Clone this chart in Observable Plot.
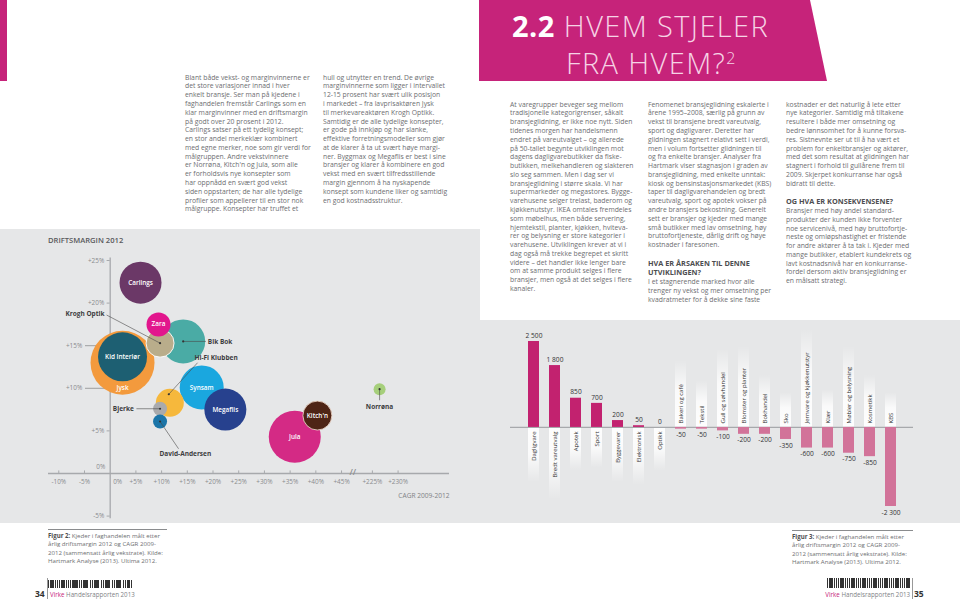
<!DOCTYPE html>
<html><head><meta charset="utf-8">
<script src="https://cdn.jsdelivr.net/npm/d3@7"></script>
<script src="https://cdn.jsdelivr.net/npm/@observablehq/plot@0.6"></script>
<style>
html,body{margin:0;padding:0;background:#fff;}
body{width:960px;height:599px;position:relative;overflow:hidden;font-family:"Open Sans",sans-serif;}
.abs{position:absolute;}
.txt{font-size:6.8px;line-height:8.78px;color:#6d6e71;white-space:nowrap;}
.h{font-weight:700;color:#4d4d4f;font-size:7.3px;}
.grey{background:#e6e7e8;}
.cap{font-size:6.1px;line-height:8.5px;color:#6d6e71;white-space:nowrap;}
.cap b{color:#4d4d4f;}
.capline{height:1px;background:#8a8c8e;}
.bar{background:repeating-linear-gradient(90deg,#333 0 1px,transparent 1px 2px,#333 2px 2.6px,transparent 2.6px 3.4px,#333 3.4px 4.6px,transparent 4.6px 5.5px);}
.foot{font-size:6.2px;color:#808285;white-space:nowrap;line-height:8px;}
.foot .v{color:#c6237a;}
.pn{font-size:8.5px;font-weight:700;color:#333;line-height:8px;}
.sep{width:1px;background:#999;}
.title{font-size:29px;line-height:33px;white-space:nowrap;color:#f6d3e5;font-weight:300;letter-spacing:1.4px;}
</style>
</head><body>
<svg width="0" height="0" style="position:absolute">
  <defs>
    <linearGradient id="gdown" x1="0" y1="0" x2="0" y2="1">
      <stop offset="0" stop-color="#fff" stop-opacity="0.95"/>
      <stop offset="0.5" stop-color="#fff" stop-opacity="0.8"/>
      <stop offset="1" stop-color="#fff" stop-opacity="0"/>
    </linearGradient>
    <linearGradient id="gup" x1="0" y1="1" x2="0" y2="0">
      <stop offset="0" stop-color="#fff" stop-opacity="0.95"/>
      <stop offset="0.55" stop-color="#fff" stop-opacity="0.8"/>
      <stop offset="1" stop-color="#fff" stop-opacity="0"/>
    </linearGradient>
  </defs>
</svg>

<!-- left page -->
<div class="abs" style="left:0;top:0;width:7px;height:81px;background:#c6237a"></div>

<div class="abs txt" style="left:185px;top:73.6px">Blant både vekst- og marginvinnerne er<br>det store variasjoner innad i hver<br>enkelt bransje. Ser man på kjedene i<br>faghandelen fremstår Carlings som en<br>klar marginvinner med en driftsmargin<br>på godt over 20 prosent i 2012.<br>Carlings satser på ett tydelig konsept;<br>en stor andel merkeklær kombinert<br>med egne merker, noe som gir verdi for<br>målgruppen. Andre vekstvinnere<br>er Norrøna, Kitch'n og Jula, som alle<br>er forholdsvis nye konsepter som<br>har oppnådd en svært god vekst<br>siden oppstarten; de har alle tydelige<br>profiler som appellerer til en stor nok<br>målgruppe. Konsepter har truffet et</div>

<div class="abs txt" style="left:323px;top:73.6px">hull og utnytter en trend. De øvrige<br>marginvinnerne som ligger i intervallet<br>12-15 prosent har svært ulik posisjon<br>i markedet – fra lavprisaktøren Jysk<br>til merkevareaktøren Krogh Optikk.<br>Samtidig er de alle tydelige konsepter,<br>er gode på innkjøp og har slanke,<br>effektive forretningsmodeller som gjør<br>at de klarer å ta ut svært høye margi-<br>ner. Byggmax og Megaflis er best i sine<br>bransjer og klarer å kombinere en god<br>vekst med en svært tilfredsstillende<br>margin gjennom å ha nyskapende<br>konsept som kundene liker og samtidig<br>en god kostnadsstruktur.</div>

<div class="abs grey" style="left:0;top:229px;width:480px;height:294px"></div>
<div id="bubble" class="abs" style="left:0;top:229px;width:480px;height:294px"></div>
<div class="abs" style="left:48px;top:235px;font-size:7.6px;font-weight:600;color:#58595b;white-space:nowrap;line-height:10px">DRIFTSMARGIN 2012</div>

<div class="abs capline" style="left:48px;top:529px;width:119px"></div>
<div class="abs cap" style="left:48px;top:531.5px"><b>Figur 2:</b> Kjeder i faghandelen målt etter<br>årlig driftsmargin 2012 og CAGR 2009-<br>2012 (sammensatt årlig vekstrate). Kilde:<br>Hartmark Analyse (2013). Ultima 2012.</div>

<div class="abs bar" style="left:48px;top:580px;width:85px;height:8px"></div>
<div class="abs pn" style="left:35px;top:590px">34</div>
<div class="abs sep" style="left:47px;top:578px;height:21px"></div>
<div class="abs foot" style="left:50px;top:591px"><span class="v">Virke</span> Handelsrapporten 2013</div>

<!-- right page -->
<div class="abs" style="left:479px;top:0;width:350px;height:81px;background:#c6237a;clip-path:polygon(0 0,331px 0,348px 81px,0 81px)"></div>
<div class="abs title" style="left:512px;top:9px"><span style="font-weight:700;color:#fff;letter-spacing:0.5px">2.2</span> HVEM STJELER</div>
<div class="abs title" style="left:566px;top:42px">FRA HVEM?<span style="font-size:16px;vertical-align:10px;letter-spacing:0">2</span></div>

<div class="abs txt" style="left:510px;top:100.6px">At varegrupper beveger seg mellom<br>tradisjonelle kategorigrenser, såkalt<br>bransjeglidning, er ikke noe nytt. Siden<br>tidenes morgen har handelsmenn<br>endret på vareutvalget – og allerede<br>på 50-tallet begynte utviklingen mot<br>dagens dagligvarebutikker da fiske-<br>butikken, melkehandleren og slakteren<br>slo seg sammen. Men i dag ser vi<br>bransjeglidning i større skala. Vi har<br>supermarkeder og megastores. Bygge-<br>varehusene selger trelast, baderom og<br>kjøkkenutstyr. IKEA omtales fremdeles<br>som møbelhus, men både servering,<br>hjemtekstil, planter, kjøkken, hviteva-<br>rer og belysning er store kategorier i<br>varehusene. Utviklingen krever at vi i<br>dag også må trekke begrepet et skritt<br>videre – det handler ikke lenger bare<br>om at samme produkt selges i flere<br>bransjer, men også at det selges i flere<br>kanaler.</div>

<div class="abs txt" style="left:648px;top:100.6px">Fenomenet bransjeglidning eskalerte i<br>årene 1995–2008, særlig på grunn av<br>vekst til bransjene bredt vareutvalg,<br>sport og dagligvarer. Deretter har<br>glidningen stagnert relativt sett i verdi,<br>men i volum fortsetter glidningen til<br>og fra enkelte bransjer. Analyser fra<br>Hartmark viser stagnasjon i graden av<br>bransjeglidning, med enkelte unntak:<br>kiosk og bensinstasjonsmarkedet (KBS)<br>taper til dagligvarehandelen og bredt<br>vareutvalg, sport og apotek vokser på<br>andre bransjers bekostning. Generelt<br>sett er bransjer og kjeder med mange<br>små butikker med lav omsetning, høy<br>bruttofortjeneste, dårlig drift og høye<br>kostnader i faresonen.<br>&nbsp;<br><span class="h">HVA ER ÅRSAKEN TIL DENNE</span><br><span class="h">UTVIKLINGEN?</span><br>I et stagnerende marked hvor alle<br>trenger ny vekst og mer omsetning per<br>kvadratmeter for å dekke sine faste</div>

<div class="abs txt" style="left:786px;top:100.6px">kostnader er det naturlig å lete etter<br>nye kategorier. Samtidig må tiltakene<br>resultere i både mer omsetning og<br>bedre lønnsomhet for å kunne forsva-<br>res. Sistnevnte ser ut til å ha vært et<br>problem for enkeltbransjer og aktører,<br>med det som resultat at glidningen har<br>stagnert i forhold til gullårene frem til<br>2009. Skjerpet konkurranse har også<br>bidratt til dette.<br>&nbsp;<br><span class="h">OG HVA ER KONSEKVENSENE?</span><br>Bransjer med høy andel standard-<br>produkter der kunden ikke forventer<br>noe servicenivå, med høy bruttofortje-<br>neste og omløpshastighet er fristende<br>for andre aktører å ta tak i. Kjeder med<br>mange butikker, etablert kundekrets og<br>lavt kostnadsnivå har en konkurranse-<br>fordel dersom aktiv bransjeglidning er<br>en målsatt strategi.</div>

<div class="abs grey" style="left:480px;top:320px;width:480px;height:203px"></div>
<div id="bars" class="abs" style="left:480px;top:320px;width:480px;height:203px"></div>

<div class="abs capline" style="left:792px;top:530px;width:121px"></div>
<div class="abs cap" style="left:792px;top:532.5px"><b>Figur 3:</b> Kjeder i faghandelen målt etter<br>årlig driftsmargin 2012 og CAGR 2009-<br>2012 (sammensatt årlig vekstrate). Kilde:<br>Hartmark Analyse (2013). Ultima 2012.</div>

<div class="abs bar" style="left:827px;top:578px;width:83px;height:10px"></div>
<div class="abs foot" style="right:50px;top:591px"><span class="v">Virke</span> Handelsrapporten 2013</div>
<div class="abs sep" style="left:912px;top:578px;height:21px"></div>
<div class="abs pn" style="left:914px;top:590px">35</div>

<script>
// ---------- Figure 2: bubble chart data ----------
const chains = ["Jysk","Kid Interiør","Carlings","Bik Bok","Zara","Krogh Optik","Synsam","Megaflis","Hi-Fi Klubben","Bjerke","David-Andersen","Jula","Kitch'n","Norrøna"];
const cagr   = [2.4, 2.4, 5.9, 14.2, 9.4, 9.7, 17.8, 22.4, 11.6, 9.7, 9.7, 35.9, 40.3, 226.4]; // CAGR 2009-2012, %
const margin = [13.0, 13.7, 22.4, 15.5, 17.5, 15.3, 10.1, 7.5, 8.3, 7.6, 6.1, 4.3, 6.8, 9.9];   // driftsmargin 2012, %
const size   = [1024, 600, 441, 484, 144, 196, 484, 441, 196, 49, 49, 676, 210, 36];           // relative size
const bubbleColors = ["#f39a3d","#1d5f72","#6b3867","#4aaba5","#e2168d","#b9ad8b","#1aa7df","#27418e","#f6b83c","#a9aaac","#1b75a8","#d42a85","#4e2415","#a6cf7b"];
const bubbleStroke = ["none","none","none","none","none","#ffffff","none","none","none","none","none","none","#e9d2c4","none"];
const insideLabelY = [10.1, 13.7, 22.4, null, 17.5, null, 10.1, 7.5, null, null, null, 4.3, 6.8, null];

const calloutNames   = ["Krogh Optik","Bik Bok","Hi-Fi Klubben","Bjerke","David-Andersen","Norrøna"];
const calloutTextX   = [-1.1, 19.0, 16.4, 4.6, 9.6, 226.4];
const calloutTextY   = [18.7, 15.5, 13.6, 7.6, 2.3, 7.8];
const calloutAnchor  = ["end","start","start","end","start","middle"];
const calloutLineX   = [-0.7, 18.6, 17.0, 5.1, 13.3, 226.4];
const calloutLineY   = [18.6, 15.5, 13.0, 7.6, 2.9, 8.6];
const calloutPointX  = [9.7, 14.2, 11.4, 9.7, 9.7, 226.4];
const calloutPointY  = [15.3, 15.5, 9.3, 7.6, 6.1, 9.9];

const xTickValues = [-10,-5,0,5,10,15,20,25,30,35,40,45,225,230];
const yTickValues = [25,20,5,-5];
const yTickLong   = [15,10];

// broken x axis: values above 100 are shifted left
const xm = v => v > 100 ? v - 174 : v;
const pct = d => (d > 0 ? "+" : "") + d + "%";

const bubbles = chains.map((name, i) => ({name, x: xm(cagr[i]), y: margin[i], s: size[i], fill: bubbleColors[i], stroke: bubbleStroke[i], ly: insideLabelY[i]}));
const callouts = calloutNames.map((name, i) => ({name, tx: xm(calloutTextX[i]), ty: calloutTextY[i], a: calloutAnchor[i], lx: xm(calloutLineX[i]), ly: calloutLineY[i], px: xm(calloutPointX[i]), py: calloutPointY[i]}));

const axisCol = "#a7a9ac", tickCol = "#8a8c8e";
const labelStyle = {fontSize: 6.4, fill: tickCol};

const bubbleChart = Plot.plot({
  width: 480, height: 294,
  marginTop: 31, marginBottom: 0.6, marginLeft: 48, marginRight: 31,
  x: {domain: [-12, 66], axis: null},
  y: {domain: [-5.8, 25], axis: null},
  r: {type: "sqrt", domain: [0, 1024], range: [0, 32]},
  color: {type: "identity"},
  style: {fontFamily: "Open Sans, sans-serif", background: "transparent", overflow: "visible"},
  marks: [
    Plot.ruleY([0], {stroke: axisCol, strokeWidth: 1.3}),
    Plot.ruleX([0], {y1: -5.3, y2: 25.3, stroke: axisCol, strokeWidth: 1.3}),
    Plot.ruleX(xTickValues.filter(d => d !== 0), {x: xm, y1: 0, y2: 0.3, stroke: axisCol}),
    Plot.text(xTickValues.filter(d => d !== 0), {x: xm, y: 0, text: pct, dy: 8, ...labelStyle}),
    Plot.text([0], {x: 0, y: 0, text: pct, dy: 8, dx: 3, textAnchor: "start", ...labelStyle}),
    Plot.text(["//"], {x: 47.2, y: 0, text: d => d, fontSize: 8.5, fill: "#8a8c8e", fontWeight: 600, dy: -1}),
    Plot.ruleY(yTickValues, {y: d => d, x1: -0.6, x2: 0, stroke: axisCol}),
    Plot.ruleY(yTickLong, {y: d => d, x1: -4.8, x2: 0, stroke: "#8a8c8e", strokeWidth: 0.8}),
    Plot.text(yTickValues, {x: 0, y: d => d, text: pct, dx: -6, textAnchor: "end", ...labelStyle}),
    Plot.text(yTickLong, {x: 0, y: d => d, text: pct, dx: -28, textAnchor: "end", ...labelStyle}),
    Plot.text([0], {x: 0, y: 0, text: d => "0%", dx: -5, dy: -7, textAnchor: "end", ...labelStyle}),
    Plot.text(["CAGR 2009-2012"], {x: 66, y: -2.6, text: d => d, textAnchor: "end", fontSize: 6.6, fill: "#808285"}),
    Plot.dot(bubbles, {x: "x", y: "y", r: "s", fill: "fill", stroke: "stroke", strokeWidth: 0.9}),
    Plot.link(callouts, {x1: "lx", y1: "ly", x2: "px", y2: "py", stroke: "#4a4a4a", strokeWidth: 0.6}),
    Plot.dot(callouts, {x: "px", y: "py", r: 1.1, fill: "#333"}),
    ...["end","start","middle"].map(a => Plot.text(callouts.filter(d => d.a === a), {x: "tx", y: "ty", text: "name", textAnchor: a, fontSize: 6.5, fontWeight: 700, fill: "#3d3d3f"})),
    Plot.text(bubbles.filter(d => d.ly !== null), {x: "x", y: "ly", text: "name", fill: "#fff", fontSize: 6.4, fontWeight: 600})
  ]
});
document.getElementById("bubble").appendChild(bubbleChart);

// ---------- Figure 3: bar chart data ----------
const categories = ["Dagligvare","Bredt vareutvalg","Apotek","Sport","Byggevarer","Elektronisk","Optikk","Bakeri og café","Tekstil","Gull og sølvhandel","Blomster og planter","Bokhandel","Sko","Jernvare og kjøkkenutstyr","Klær","Møbler og belysning","Kosmetikk","KBS"];
const change = [2500, 1800, 850, 700, 200, 50, 0, -50, -50, -100, -200, -200, -350, -600, -600, -750, -850, -2300];

const fmt = d3.formatLocale({decimal: ",", thousands: " ", grouping: [3], currency: ["", ""], minus: "-"}).format(",");
const bars = categories.map((c, i) => ({c, v: change[i]}));
const barH = 203, barTop = 21, barBottom = 17;
const yDomain = [-2300, 2500];
const pxPerUnit = (barH - barTop - barBottom) / (yDomain[1] - yDomain[0]);
const stripLen = d => (d.c.length * 2.9 + 26) / pxPerUnit;
const pos = bars.filter(d => d.v >= 0), neg = bars.filter(d => d.v < 0);

const barChart = Plot.plot({
  width: 480, height: barH,
  marginTop: barTop, marginBottom: barBottom, marginLeft: 30, marginRight: 47,
  x: {type: "band", domain: categories, paddingInner: 0.48, paddingOuter: 0.755, axis: null},
  y: {domain: yDomain, axis: null},
  style: {fontFamily: "Open Sans, sans-serif", background: "transparent", overflow: "visible"},
  marks: [
    Plot.barY(pos, {x: "c", y1: 0, y2: d => -stripLen(d), fill: "url(#gdown)"}),
    Plot.barY(neg, {x: "c", y1: 0, y2: d => stripLen(d), fill: "url(#gup)"}),
    Plot.ruleY([0], {stroke: "#a7a9ac", strokeWidth: 1.2}),
    Plot.barY(pos, {x: "c", y1: 0, y2: "v", fill: "#c2226f"}),
    Plot.barY(neg, {x: "c", y1: 0, y2: "v", fill: "#d27399"}),
    Plot.text(pos, {x: "c", y: "v", text: d => fmt(d.v), lineAnchor: "middle", dy: -6, fontSize: 6.6, fill: "#333"}),
    Plot.text(neg, {x: "c", y: "v", text: d => fmt(d.v), lineAnchor: "middle", dy: 6, fontSize: 6.6, fill: "#333"}),
    Plot.text(pos, {x: "c", y: 0, text: "c", rotate: -90, textAnchor: "end", dy: 4, fontSize: 6, fill: "#333"}),
    Plot.text(neg, {x: "c", y: 0, text: "c", rotate: -90, textAnchor: "start", dy: -4, fontSize: 6, fill: "#333"})
  ]
});
document.getElementById("bars").appendChild(barChart);
</script>
</body></html>
